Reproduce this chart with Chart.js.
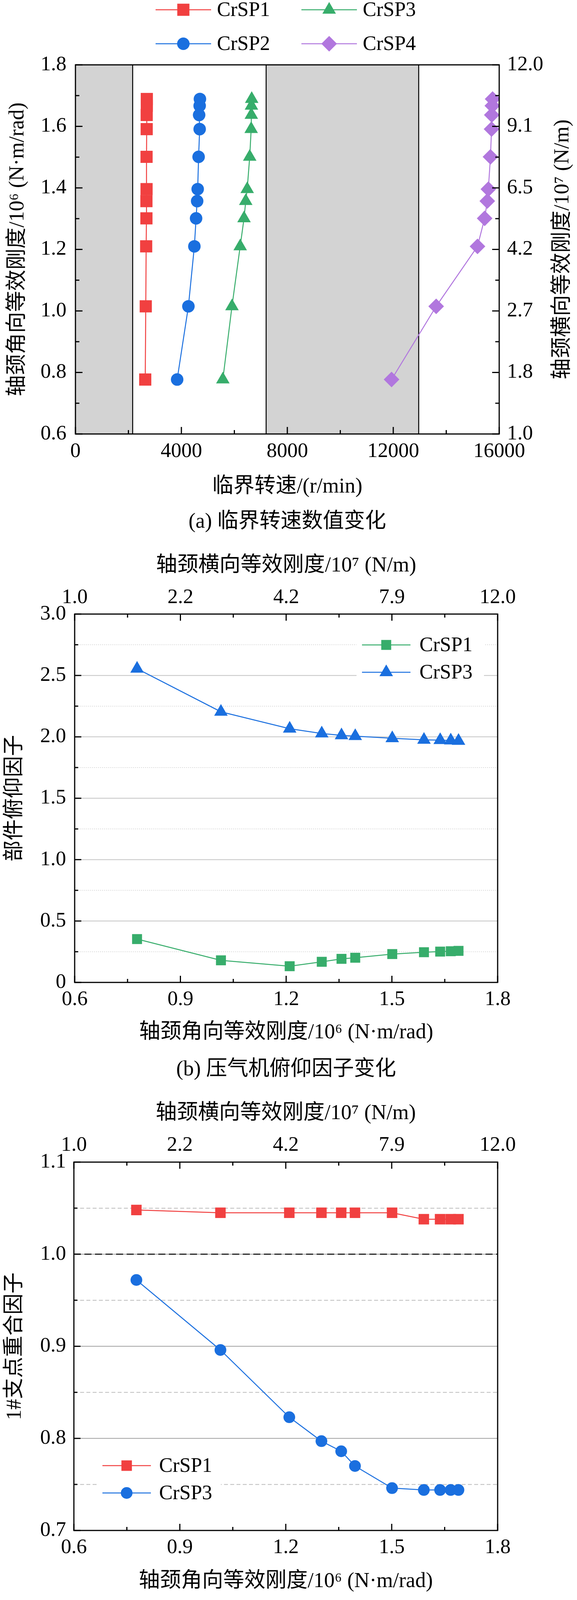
<!DOCTYPE html>
<html><head><meta charset="utf-8">
<script src="https://cdn.jsdelivr.net/npm/chart.js@4.4.1/dist/chart.umd.min.js"></script>
<style>
html,body{margin:0;padding:0;background:#fff;width:1476px;height:4178px;overflow:hidden}
canvas{position:absolute;left:0;display:block}
</style></head><body>
<canvas id="ca" width="1476" height="1370" style="top:0px"></canvas>
<canvas id="cb" width="1476" height="1400" style="top:1370px"></canvas>
<canvas id="cc" width="1476" height="1408" style="top:2770px"></canvas>
<script>
// ---------------- data ----------------
const stiffAng = [0.777, 1.015, 1.210, 1.301, 1.357, 1.396, 1.501, 1.591, 1.637, 1.667, 1.689];
const speedCrSP1 = [2635, 2655, 2670, 2680, 2680, 2685, 2685, 2690, 2690, 2695, 2695];
const speedCrSP2 = [3840, 4265, 4490, 4555, 4595, 4615, 4650, 4690, 4670, 4690, 4700];
const speedCrSP3 = [5565, 5910, 6220, 6365, 6430, 6485, 6580, 6635, 6640, 6645, 6655];
const speedCrSP4 = [11935, 13620, 15180, 15450, 15550, 15590, 15670, 15710, 15720, 15740, 15750];
const pitchCrSP1 = [0.353, 0.180, 0.132, 0.168, 0.192, 0.201, 0.231, 0.246, 0.251, 0.254, 0.257];
const pitchCrSP3 = [2.555, 2.204, 2.066, 2.027, 2.012, 2.006, 1.988, 1.976, 1.973, 1.970, 1.967];
const overlapCrSP1 = [1.048, 1.045, 1.045, 1.045, 1.045, 1.045, 1.045, 1.038, 1.038, 1.038, 1.038];
const overlapCrSP3 = [0.972, 0.896, 0.823, 0.797, 0.786, 0.770, 0.746, 0.744, 0.744, 0.744, 0.744];
const rightTickLabelsA = ['1.0', '1.8', '2.7', '4.2', '6.5', '9.1', '12.0'];
const topTickLabelsBC = ['1.0', '2.2', '4.2', '7.9', '12.0'];
const shadedSpeedRanges = [[0, 2160], [7200, 12960]];

// ---------------- styles ----------------
const RED = '#F14040', BLUE = '#1A6FDF', GREEN = '#37AD6B', PURPLE = '#B177DE';
const FAM = '"Liberation Serif", "DejaVu Serif", "Noto Sans CJK SC", serif';
Chart.defaults.font.family = FAM;
Chart.defaults.color = '#000';
const tickFont = {family: FAM, size: 53};
const titleFont = {family: FAM, size: 54};

function pts(xs, ys) { return xs.map((x, i) => ({x: x, y: ys[i]})); }
function ds(label, data, color, style, r) {
  return {label, data, borderColor: color, backgroundColor: color, borderWidth: 2.5,
    pointStyle: style, pointRadius: r, pointHoverRadius: r, pointBorderWidth: 0,
    showLine: true, tension: 0, fill: false};
}
function range(a, b, s) { const out = []; const n = Math.round((b - a) / s); for (let i = 0; i <= n; i++) out.push(+(a + i * s).toFixed(6)); return out; }

function drawMarker(ctx, style, r, x, y, color) {
  ctx.save(); ctx.fillStyle = color; ctx.beginPath();
  if (style === 'rect') { const s = Math.SQRT1_2 * r; ctx.rect(x - s, y - s, 2 * s, 2 * s); }
  else if (style === 'triangle') {
    let a = 0;
    ctx.moveTo(x + Math.sin(a) * r, y - Math.cos(a) * r); a += 2 * Math.PI / 3;
    ctx.lineTo(x + Math.sin(a) * r, y - Math.cos(a) * r); a += 2 * Math.PI / 3;
    ctx.lineTo(x + Math.sin(a) * r, y - Math.cos(a) * r); ctx.closePath();
  } else if (style === 'rectRot') {
    ctx.moveTo(x - r, y); ctx.lineTo(x, y - r); ctx.lineTo(x + r, y); ctx.lineTo(x, y + r); ctx.closePath();
  } else { ctx.arc(x, y, r, 0, Math.PI * 2); }
  ctx.fill(); ctx.restore();
}

function decor(cfg) {
  return {
    id: 'decor',
    beforeDatasetsDraw(chart) {
      const {ctx, chartArea: a} = chart;
      const xs = chart.scales.x, ys = chart.scales.y;
      ctx.save();
      if (cfg.shaded) {
        ctx.fillStyle = '#D3D3D3';
        cfg.shaded.forEach(([v0, v1]) => {
          const x0 = xs.getPixelForValue(v0), x1 = xs.getPixelForValue(v1);
          ctx.fillRect(x0, a.top, x1 - x0, a.bottom - a.top);
        });
        ctx.strokeStyle = '#000'; ctx.lineWidth = 2.5;
        cfg.shaded.forEach(rg => rg.forEach(v => {
          if (v <= xs.min || v >= xs.max) return;
          const x = xs.getPixelForValue(v);
          ctx.beginPath(); ctx.moveTo(x, a.top); ctx.lineTo(x, a.bottom); ctx.stroke();
        }));
      }
      (cfg.grid || []).forEach(g => {
        ctx.strokeStyle = g.color; ctx.lineWidth = g.width; ctx.setLineDash(g.dash || []);
        g.values.forEach(v => {
          const y = ys.getPixelForValue(v);
          ctx.beginPath(); ctx.moveTo(a.left, y); ctx.lineTo(a.right, y); ctx.stroke();
        });
      });
      ctx.restore();
    },
    afterDatasetsDraw(chart) {
      const {ctx, chartArea: a} = chart;
      ctx.save(); ctx.strokeStyle = '#000'; ctx.setLineDash([]); ctx.lineWidth = 3;
      (cfg.ticks || []).forEach(t => {
        const sc = chart.scales[t.scale];
        t.values.forEach(v => {
          const p = sc.getPixelForValue(v);
          ctx.beginPath();
          if (t.side === 'left') { ctx.moveTo(a.left, p); ctx.lineTo(a.left + t.len, p); }
          else if (t.side === 'right') { ctx.moveTo(a.right, p); ctx.lineTo(a.right - t.len, p); }
          else if (t.side === 'bottom') { ctx.moveTo(p, a.bottom); ctx.lineTo(p, a.bottom - t.len); }
          else { ctx.moveTo(p, a.top); ctx.lineTo(p, a.top + t.len); }
          ctx.stroke();
        });
      });
      ctx.strokeRect(a.left, a.top, a.right - a.left, a.bottom - a.top);
      ctx.restore();
    },
    afterDraw(chart) {
      const {ctx, chartArea: a} = chart;
      ctx.save();
      if (cfg.legend) {
        const L = cfg.legend;
        if (L.box) { ctx.fillStyle = '#fff'; ctx.fillRect(L.box[0], L.box[1], L.box[2], L.box[3]); }
        L.items.forEach(it => {
          const d = chart.data.datasets[it.i];
          ctx.strokeStyle = d.borderColor; ctx.lineWidth = 2.5;
          ctx.beginPath(); ctx.moveTo(it.cx - L.half, it.cy); ctx.lineTo(it.cx + L.half, it.cy); ctx.stroke();
          drawMarker(ctx, d.pointStyle, d.pointRadius, it.cx, it.cy, d.backgroundColor);
          ctx.fillStyle = '#000'; ctx.font = L.font + 'px ' + FAM;
          ctx.textAlign = 'left'; ctx.textBaseline = 'middle';
          ctx.fillText(d.label, it.cx + L.textOff, it.cy + 2);
        });
      }
      if (cfg.rightTitle) {
        ctx.save();
        ctx.translate(cfg.rightTitle.x, (a.top + a.bottom) / 2);
        ctx.rotate(-Math.PI / 2);
        ctx.fillStyle = '#000'; ctx.font = '54px ' + FAM; ctx.textAlign = 'center'; ctx.textBaseline = 'middle';
        ctx.fillText(cfg.rightTitle.text, 0, 0);
        ctx.restore();
      }
      if (cfg.caption) {
        ctx.fillStyle = '#000'; ctx.font = '54px ' + FAM; ctx.textAlign = 'center'; ctx.textBaseline = 'middle';
        ctx.fillText(cfg.caption.text, (a.left + a.right) / 2, cfg.caption.y);
      }
      ctx.restore();
    }
  };
}

const noGrid = {display: false, drawTicks: false};
const noBorder = {display: false};

// ---------------- chart (a) ----------------
const dataA = [
  ds('CrSP1', pts(speedCrSP1, stiffAng), RED, 'rect', 22),
  ds('CrSP2', pts(speedCrSP2, stiffAng), BLUE, 'circle', 16),
  ds('CrSP3', pts(speedCrSP3, stiffAng), GREEN, 'triangle', 20),
  ds('CrSP4', pts(speedCrSP4, stiffAng), PURPLE, 'rectRot', 20)
];
new Chart(document.getElementById('ca'), {
  type: 'scatter',
  data: {datasets: dataA},
  options: {
    responsive: false, animation: false, devicePixelRatio: 1,
    layout: {padding: {top: 166, left: 0, right: 0, bottom: 0}},
    plugins: {legend: {display: false}, tooltip: {enabled: false}},
    scales: {
      x: {type: 'linear', position: 'bottom', min: 0, max: 16000,
        ticks: {stepSize: 4000, font: tickFont, color: '#000', padding: 13, maxRotation: 0, autoSkip: false,
          callback: v => String(Math.round(v))},
        grid: noGrid, border: noBorder,
        title: {display: true, text: '临界转速/(r/min)', font: titleFont, color: '#000', padding: {top: 0, bottom: 91}},
        afterFit(s) { s.height = 259; }},
      y: {type: 'linear', position: 'left', min: 0.6, max: 1.8,
        ticks: {stepSize: 0.2, font: tickFont, color: '#000', padding: 23, autoSkip: false, callback: v => v.toFixed(1)},
        grid: noGrid, border: noBorder,
        title: {display: true, text: '轴颈角向等效刚度/10⁶ (N·m/rad)', font: titleFont, color: '#000', padding: {top: 13, bottom: 0}},
        afterFit(s) { s.width = 193; }},
      y2: {type: 'linear', position: 'right', min: 0.6, max: 1.8,
        ticks: {stepSize: 0.2, font: tickFont, color: '#000', padding: 20, autoSkip: false,
          callback: v => rightTickLabelsA[Math.round((v - 0.6) / 0.2)]},
        grid: noGrid, border: noBorder,
        afterFit(s) { s.width = 199; }}
    }
  },
  plugins: [decor({
    shaded: shadedSpeedRanges,
    ticks: [
      {scale: 'y', side: 'left', len: 18, values: range(0.6, 1.8, 0.2)},
      {scale: 'y', side: 'left', len: 10, values: range(0.7, 1.7, 0.2)},
      {scale: 'y', side: 'right', len: 18, values: range(0.6, 1.8, 0.2)},
      {scale: 'y', side: 'right', len: 10, values: range(0.7, 1.7, 0.2)},
      {scale: 'x', side: 'bottom', len: 18, values: range(0, 16000, 4000)},
      {scale: 'x', side: 'bottom', len: 10, values: range(2000, 14000, 4000)}
    ],
    legend: {font: 52, half: 71, textOff: 86, items: [
      {i: 0, cx: 469, cy: 25}, {i: 2, cx: 842, cy: 25},
      {i: 1, cx: 469, cy: 112}, {i: 3, cx: 842, cy: 112}
    ]},
    rightTitle: {x: 1440, text: '轴颈横向等效刚度/10⁷ (N/m)'},
    caption: {text: '(a) 临界转速数值变化', y: 1337}
  })]
});

// ---------------- chart (b) ----------------
const dataB = [
  ds('CrSP1', pts(stiffAng, pitchCrSP1), GREEN, 'rect', 18),
  ds('CrSP3', pts(stiffAng, pitchCrSP3), BLUE, 'triangle', 20)
];
function bcScales(cfg) {
  return {
    x: {type: 'linear', position: 'bottom', min: 0.6, max: 1.8,
      ticks: {stepSize: 0.3, font: tickFont, color: '#000', padding: cfg.bPad, maxRotation: 0, autoSkip: false, callback: v => v.toFixed(1)},
      grid: noGrid, border: noBorder,
      title: {display: true, text: '轴颈角向等效刚度/10⁶ (N·m/rad)', font: titleFont, color: '#000', padding: {top: 0, bottom: cfg.bTitlePad}},
      afterFit(s) { s.height = cfg.bH; }},
    x2: {type: 'linear', position: 'top', min: 0.6, max: 1.8,
      ticks: {stepSize: 0.3, font: tickFont, color: '#000', padding: cfg.tPad, maxRotation: 0, autoSkip: false,
        callback: v => topTickLabelsBC[Math.round((v - 0.6) / 0.3)]},
      grid: noGrid, border: noBorder,
      title: {display: true, text: '轴颈横向等效刚度/10⁷ (N/m)', font: titleFont, color: '#000', padding: {top: cfg.tTitlePad, bottom: 0}},
      afterFit(s) { s.height = cfg.tH; }},
    y: {type: 'linear', position: 'left', min: cfg.yMin, max: cfg.yMax,
      ticks: {stepSize: cfg.yStep, font: tickFont, color: '#000', padding: cfg.lPad, autoSkip: false,
        callback: v => (Math.abs(v) < 1e-9 ? '0' : v.toFixed(1))},
      grid: noGrid, border: noBorder,
      title: {display: true, text: cfg.yTitle, font: titleFont, color: '#000', padding: {top: 6, bottom: 0}},
      afterFit(s) { s.width = cfg.lW; }}
  };
}
new Chart(document.getElementById('cb'), {
  type: 'scatter',
  data: {datasets: dataB},
  options: {
    responsive: false, animation: false, devicePixelRatio: 1,
    layout: {padding: {top: 0, left: 0, right: 203, bottom: 0}},
    plugins: {legend: {display: false}, tooltip: {enabled: false}},
    scales: bcScales({bPad: 12, bTitlePad: 94, bH: 255, tPad: 10, tTitlePad: 46, tH: 202,
      yMin: 0, yMax: 3, yStep: 0.5, lPad: 22, lW: 191, yTitle: '部件俯仰因子'})
  },
  plugins: [decor({
    grid: [
      {values: range(0.5, 2.5, 0.5), color: '#C4C4C4', width: 2, dash: []},
      {values: range(0.25, 2.75, 0.5), color: '#C8C8C8', width: 1.5, dash: [2, 3]}
    ],
    ticks: [
      {scale: 'y', side: 'left', len: 17, values: range(0, 3, 0.5)},
      {scale: 'y', side: 'left', len: 9, values: range(0.25, 2.75, 0.5)},
      {scale: 'x', side: 'bottom', len: 17, values: range(0.6, 1.8, 0.3)},
      {scale: 'x', side: 'bottom', len: 9, values: range(0.75, 1.65, 0.3)},
      {scale: 'x2', side: 'top', len: 17, values: range(0.6, 1.8, 0.3)},
      {scale: 'x2', side: 'top', len: 9, values: range(0.75, 1.65, 0.3)}
    ],
    legend: {font: 52, half: 62, textOff: 85, box: [912, 244, 326, 136], items: [
      {i: 0, cx: 988, cy: 281}, {i: 1, cx: 988, cy: 351}
    ]},
    caption: {text: '(b) 压气机俯仰因子变化', y: 1369}
  })]
});

// ---------------- chart (c) ----------------
const dataC = [
  ds('CrSP1', pts(stiffAng, overlapCrSP1), RED, 'rect', 19),
  ds('CrSP3', pts(stiffAng, overlapCrSP3), BLUE, 'circle', 15)
];
new Chart(document.getElementById('cc'), {
  type: 'scatter',
  data: {datasets: dataC},
  options: {
    responsive: false, animation: false, devicePixelRatio: 1,
    layout: {padding: {top: 0, left: 0, right: 203, bottom: 0}},
    plugins: {legend: {display: false}, tooltip: {enabled: false}},
    scales: bcScales({bPad: 12, bTitlePad: 97, bH: 260, tPad: 11, tTitlePad: 48, tH: 205,
      yMin: 0.7, yMax: 1.1, yStep: 0.1, lPad: 20, lW: 189, yTitle: '1#支点重合因子'})
  },
  plugins: [decor({
    grid: [
      {values: [0.8, 0.9, 1.0], color: '#A0A0A0', width: 2, dash: []},
      {values: [0.75, 0.85, 0.95, 1.05], color: '#BDBDBD', width: 2, dash: [10, 6]},
      {values: [1.0], color: '#000', width: 2.5, dash: [18, 9]}
    ],
    ticks: [
      {scale: 'y', side: 'left', len: 17, values: range(0.7, 1.1, 0.1)},
      {scale: 'y', side: 'left', len: 9, values: range(0.75, 1.05, 0.1)},
      {scale: 'x', side: 'bottom', len: 17, values: range(0.6, 1.8, 0.3)},
      {scale: 'x', side: 'bottom', len: 9, values: range(0.75, 1.65, 0.3)},
      {scale: 'x2', side: 'top', len: 17, values: range(0.6, 1.8, 0.3)},
      {scale: 'x2', side: 'top', len: 9, values: range(0.75, 1.65, 0.3)}
    ],
    legend: {font: 52, half: 62, textOff: 83, box: [247, 942, 318, 146], items: [
      {i: 0, cx: 324, cy: 982}, {i: 1, cx: 324, cy: 1052}
    ]},
    caption: {text: '(c) 1#支点重合因子变化', y: 1372}
  })]
});
</script>
</body></html>
